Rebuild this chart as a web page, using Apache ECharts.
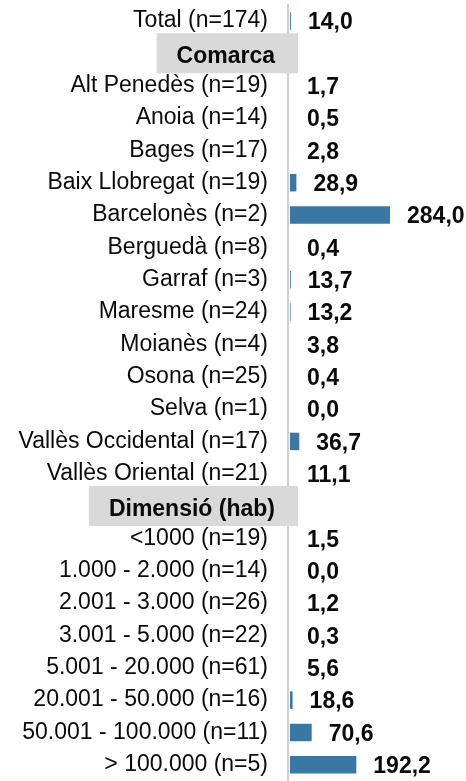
<!DOCTYPE html>
<html>
<head>
<meta charset="utf-8">
<script src="https://cdn.jsdelivr.net/npm/echarts@6/dist/echarts.min.js"></script>
<style>
html,body{margin:0;padding:0;background:#fff;}
#chart{width:466px;height:781px;}
</style>
</head>
<body>
<div id="chart"></div>
<script>
const categories = [
  'Total (n=174)',
  'Comarca',
  'Alt Penedès (n=19)',
  'Anoia (n=14)',
  'Bages (n=17)',
  'Baix Llobregat (n=19)',
  'Barcelonès (n=2)',
  'Berguedà (n=8)',
  'Garraf (n=3)',
  'Maresme (n=24)',
  'Moianès (n=4)',
  'Osona (n=25)',
  'Selva (n=1)',
  'Vallès Occidental (n=17)',
  'Vallès Oriental (n=21)',
  'Dimensió (hab)',
  '<1000 (n=19)',
  '1.000 - 2.000 (n=14)',
  '2.001 - 3.000 (n=26)',
  '3.001 - 5.000 (n=22)',
  '5.001 - 20.000 (n=61)',
  '20.001 - 50.000 (n=16)',
  '50.001 - 100.000 (n=11)',
  '> 100.000 (n=5)'
];
const headers = ['Comarca', 'Dimensió (hab)'];
const values = [
  14.0,
  null,
  1.7, 0.5, 2.8, 28.9, 284.0, 0.4, 13.7, 13.2, 3.8, 0.4, 0.0, 36.7, 11.1,
  null,
  1.5, 0.0, 1.2, 0.3, 5.6, 18.6, 70.6, 192.2
];

const X_MIN = 11.5, X_MAX = 491;
const BAR_COLOR = '#3a77a5';
const FONT = "'Liberation Sans', Arial, sans-serif";
const fmt = v => v.toFixed(1).replace('.', ',');

const data = [];
values.forEach((v, i) => { if (v !== null) data.push([v, i]); });

const chart = echarts.init(document.getElementById('chart'), null, {renderer: 'canvas'});
chart.setOption({
  animation: false,
  backgroundColor: '#fff',
  grid: {left: 290, top: 4.8, width: 176, height: 781.6, containLabel: false},
  xAxis: {type: 'value', min: X_MIN, max: X_MAX, show: false},
  yAxis: [
    {
      type: 'category', data: categories, inverse: true, offset: 2,
      axisLine: {show: true, lineStyle: {color: '#cfcfcf', width: 2}},
      axisTick: {show: false},
      splitLine: {show: false},
      axisLabel: {
        interval: 0, margin: 20, fontSize: 23, color: '#0a0a0a', fontFamily: FONT,
        formatter: v => headers.includes(v) ? '' : v
      }
    },
    {
      type: 'category', data: categories, inverse: true, position: 'left', offset: 0,
      axisLine: {show: false}, axisTick: {show: false}, splitLine: {show: false},
      axisLabel: {
        interval: 0, margin: -8, fontFamily: FONT,
        formatter: v => headers.includes(v) ? '{h|' + v + '}' : '',
        rich: {
          h: {
            fontSize: 23, fontWeight: 'bold', color: '#0a0a0a', fontFamily: FONT,
            backgroundColor: '#d9d9d9', padding: [12, 23, 5, 20], lineHeight: 26
          }
        }
      }
    }
  ],
  series: [{
    type: 'custom',
    coordinateSystem: 'cartesian2d',
    encode: {x: 0, y: 1},
    data: data,
    renderItem: function (params, api) {
      const v = api.value(0);
      const c = api.value(1);
      const base = api.coord([X_MIN, c]);
      const end = api.coord([v, c]);
      const x1 = Math.max(base[0], end[0]);
      const h = api.size([0, 1])[1] * 0.54;
      return {
        type: 'group',
        children: [
          {type: 'rect', shape: {x: base[0], y: base[1] - h / 2, width: x1 - base[0], height: h},
           style: {fill: BAR_COLOR}},
          {type: 'text', x: x1 + 17, y: base[1] + 2,
           style: {text: fmt(v), fill: '#0a0a0a', font: 'bold 23px ' + FONT,
                   align: 'left', verticalAlign: 'middle'}}
        ]
      };
    }
  }]
});
</script>
</body>
</html>
